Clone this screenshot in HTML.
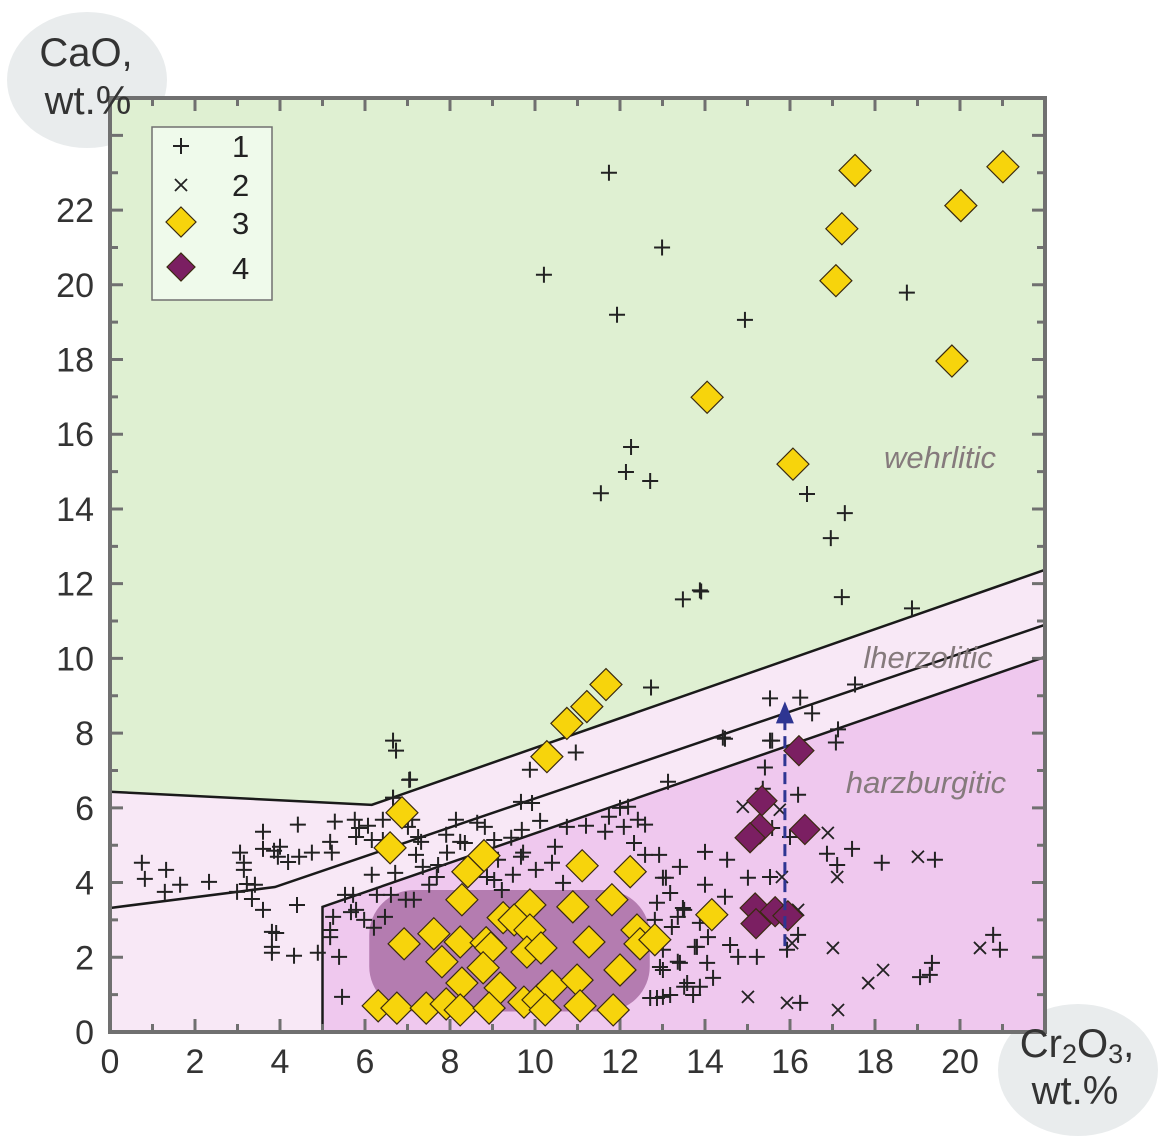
<!DOCTYPE html>
<html><head><meta charset="utf-8"><style>
html,body{margin:0;padding:0;background:#fff;}
svg{display:block;font-family:"Liberation Sans",Arial,sans-serif;}
</style></head><body>
<svg id="chart" width="1172" height="1137" viewBox="0 0 1172 1137" xmlns="http://www.w3.org/2000/svg">
<g id="regions"></g>
<g id="axes"></g>
<g id="marks"></g>
<g id="labels"></g>
</svg>
<script>
const xTicks=[0,2,4,6,8,10,12,14,16,18,20];
const yTicks=[0,2,4,6,8,10,12,14,16,18,20,22];
const wehrBound=[[0,6.43],[6.16,6.08],[22,12.37]];
const lherzBound=[[0,3.32],[3.88,3.88],[22,10.9]];
const harzBound=[[5,0],[5,3.35],[22,10.04]];
const blob=[6.1,0.55,12.7,3.8];
const arrowX=[15.88];
const arrowY=[2.3,8.85];
const s1x=[11.74,12.99,10.21,11.93,14.94,18.75,12.26,12.14,12.71,11.55,16.4,17.29,16.96,17.22,18.87,13.48,13.88,12.73,17.53,15.53,16.24,16.52,14.42,17.13,17.08,6.66,6.73,7.06,9.88,10.96,13.13,15.53,15.41,
0.75,0.82,1.32,1.29,1.65,2.33,3.06,3.15,3.15,2.99,3.22,3.41,3.34,3.6,3.6,3.6,3.86,4.0,3.95,4.19,4.42,4.45,4.75,3.81,3.91,3.81,3.81,4.33,4.4,4.89,5.18,5.22,5.29,5.76,5.79,5.86,6.07,6.42,6.16,6.42,6.16,6.66,7.04,6.66,7.01,7.11,7.25,7.32,7.2,7.36,6.71,7.72,7.69,7.93,7.91,8.14,8.24,8.35,8.64,8.82,9.04,9.44,9.67,9.93,10.12,9.69,9.72,9.67,9.13,8.87,9.04,9.48,9.22,10.02,10.4,10.47,10.66,10.75,11.2,11.65,11.74,12.0,12.19,12.09,12.42,12.59,12.33,12.59,12.92,13.41,13.08,13.18,12.87,13.51,13.22,12.82,13.01,13.36,13.76,13.01,13.51,13.18,12.87,7.51,5.72,5.53,5.67,5.79,5.25,5.18,5.18,5.39,5.46,5.98,6.21,6.47,6.28,6.61,6.96,7.15,
13.91,14.47,15.58,15.36,16.19,15.58,16.0,17.46,16.87,17.11,18.16,19.41,14.0,14.52,15.01,15.53,13.01,14.0,14.47,13.48,13.36,13.88,14.07,13.81,14.59,14.78,15.22,16.19,15.93,12.94,13.41,14.05,13.58,13.88,14.19,12.71,13.01,13.72,16.24,19.06,19.34,19.29,20.78,20.94];
const s1y=[23.0,21.0,20.27,19.2,19.06,19.79,15.66,14.99,14.75,14.42,14.4,13.89,13.22,11.64,11.34,11.58,11.82,9.22,9.3,8.93,8.95,8.53,7.88,8.1,7.75,7.8,7.53,6.76,7.02,7.48,6.7,7.8,7.08,
4.53,4.1,4.34,3.75,3.94,4.02,4.8,4.53,4.34,3.75,3.96,3.94,3.56,5.36,3.27,4.9,4.85,4.96,4.69,4.55,5.55,4.69,4.8,2.68,2.65,2.28,2.12,2.04,3.4,2.12,5.09,4.8,5.63,5.68,5.22,5.46,5.52,5.68,5.14,5.14,4.21,6.27,6.75,6.27,5.49,5.68,5.22,5.09,4.74,4.42,4.26,4.47,4.15,4.8,5.28,5.68,5.09,5.06,5.6,5.49,5.14,5.2,6.16,6.13,5.65,5.41,4.8,4.69,4.61,4.15,4.07,4.21,3.8,4.34,4.53,4.96,3.99,5.49,5.52,5.36,5.76,6.0,6.03,5.49,5.68,5.55,5.06,4.74,4.74,4.42,4.13,3.72,3.46,3.27,2.81,3.0,2.2,1.88,2.28,1.66,1.21,0.99,0.91,3.94,3.67,3.67,3.21,3.27,3.08,2.73,2.54,2.01,0.94,3.0,2.79,3.08,3.67,3.67,3.54,3.54,
11.79,7.85,7.8,6.51,6.35,5.46,5.22,4.9,4.77,4.47,4.53,4.61,4.82,4.61,4.13,4.15,4.13,3.94,3.62,3.32,3.08,2.92,2.54,2.28,2.33,2.01,2.01,2.6,2.2,1.74,1.85,1.85,1.31,1.21,1.45,0.91,0.94,0.99,0.78,1.47,1.85,1.53,2.6,2.2];
const s2x=[14.89,15.76,16.89,17.11,19.01,15.81,16.19,16.05,17.01,15.01,15.93,17.13,17.84,18.19,20.47];
const s2y=[6.03,5.95,5.33,4.15,4.69,4.15,3.27,2.38,2.25,0.94,0.78,0.59,1.31,1.66,2.25];
const s3x=[21.01,17.53,20.02,17.22,17.08,19.81,14.05,16.07,11.67,11.22,10.75,10.28,6.87,6.59,8.8,8.42,11.11,12.24,8.28,6.92,7.62,7.81,8.24,8.85,9.25,9.88,9.51,9.88,8.96,9.81,10.14,10.89,11.81,11.27,12.4,12.47,12.0,8.28,8.78,9.18,9.74,10.07,10.4,10.99,11.84,6.31,6.75,7.44,7.91,8.24,8.92,10.24,14.16,11.06,12.82];
const s3y=[23.16,23.06,22.12,21.5,20.11,17.96,16.99,15.2,9.3,8.71,8.26,7.37,5.87,4.93,4.72,4.29,4.45,4.29,3.54,2.36,2.63,1.88,2.41,2.39,3.06,3.4,3.0,2.73,2.25,2.14,2.25,3.35,3.54,2.41,2.73,2.36,1.66,1.31,1.72,1.18,0.8,0.86,1.23,1.39,0.59,0.7,0.64,0.64,0.75,0.59,0.64,0.59,3.14,0.7,2.47];
const s4x=[16.21,15.34,15.29,15.06,16.35,15.18,15.65,15.95,15.2];
const s4y=[7.53,6.19,5.44,5.2,5.42,3.32,3.22,3.11,2.9];

const X0=110,X1=1045,Y0=1032,Y1=98,XMAX=22,YMAX=25;
const sx=v=>X0+v*(X1-X0)/XMAX;
const sy=v=>Y0-v*(Y0-Y1)/YMAX;
const NS='http://www.w3.org/2000/svg';
function mk(tag,attrs,parent){const e=document.createElementNS(NS,tag);for(const k in attrs)e.setAttribute(k,attrs[k]);parent.appendChild(e);return e;}
const R=document.getElementById('regions'),A=document.getElementById('axes'),M=document.getElementById('marks'),L=document.getElementById('labels'),S=document.getElementById('chart');
const pts=a=>a.map(p=>sx(p[0])+','+sy(p[1])).join(' ');

let e=mk('ellipse',{cx:87,cy:80,rx:80,ry:68,fill:'#e9eced'},S);S.insertBefore(e,R);

e=mk('ellipse',{cx:1078,cy:1070,rx:80,ry:66,fill:'#e9eced'},S);S.insertBefore(e,R);


e=mk('rect',{x:X0,y:Y1,width:X1-X0,height:Y0-Y1,fill:'#dff0d2'},R);

e=mk('polygon',{points:pts([[0,0],...wehrBound,[22,0]]),fill:'#f8e8f6'},R);

e=mk('polygon',{points:pts([...harzBound,[22,0]]),fill:'#efc8ee'},R);

e=mk('rect',{x:sx(blob[0]),y:sy(blob[3]),width:sx(blob[2])-sx(blob[0]),height:sy(blob[1])-sy(blob[3]),rx:45,ry:45,fill:'#b47cb0'},R);

[[wehrBound,'wehrlitic-boundary'],[lherzBound,'lherzolitic-boundary'],[harzBound,'harzburgitic-boundary']].forEach(([b,n])=>{
 const l=mk('polyline',{points:pts(b),fill:'none',stroke:'#1a1a1a','stroke-width':2.5},R);
 
 
});

function plus(x,y){return mk('path',{d:`M${x-8} ${y}h16M${x} ${y-8}v16`,stroke:'#222','stroke-width':2,fill:'none'},M);}
function cross(x,y){return mk('path',{d:`M${x-6} ${y-6}l12 12M${x-6} ${y+6}l12 -12`,stroke:'#222','stroke-width':1.8,fill:'none'},M);}
function diamond(x,y,r,fill){return mk('polygon',{points:`${x},${y-r} ${x+r},${y} ${x},${y+r} ${x-r},${y}`,fill:fill,stroke:'#3a2a10','stroke-width':1.2},M);}
s1x.forEach((v,i)=>{const p=plus(sx(v),sy(s1y[i]));

});
s2x.forEach((v,i)=>{const p=cross(sx(v),sy(s2y[i]));

});
s3x.forEach((v,i)=>{const p=diamond(sx(v),sy(s3y[i]),16,'#f7d40c');

});
s4x.forEach((v,i)=>{const p=diamond(sx(v),sy(s4y[i]),15,'#7b1f62');

});
e=mk('line',{x1:sx(arrowX[0]),y1:sy(arrowY[0]),x2:sx(arrowX[0]),y2:sy(arrowY[1])+16,stroke:'#2e3592','stroke-width':3,'stroke-dasharray':'12,6'},M);

e=mk('polygon',{points:`${sx(arrowX[0])},${sy(arrowY[1])} ${sx(arrowX[0])-9},${sy(arrowY[1])+22} ${sx(arrowX[0])+9},${sy(arrowY[1])+22}`,fill:'#2e3592'},M);


e=mk('rect',{x:X0,y:Y1,width:X1-X0,height:Y0-Y1,fill:'none',stroke:'#707070','stroke-width':4},A);

for(let v=0;v<=XMAX;v++){const x=sx(v),len=v%2?8:13;
 const t=mk('path',{d:`M${x} ${Y0}v${-len}M${x} ${Y1}v${len}`,stroke:'#707070','stroke-width':3},A);
 
 }
for(let v=0;v<=YMAX;v++){const y=sy(v),len=v%2?8:13;
 const t=mk('path',{d:`M${X0} ${y}h${len}M${X1} ${y}h${-len}`,stroke:'#707070','stroke-width':3},A);
 
 }
xTicks.forEach(v=>{const t=mk('text',{x:sx(v),y:1073,'text-anchor':'middle','font-size':34,fill:'#333'},L);t.textContent=v;
 
 });
yTicks.forEach(v=>{const t=mk('text',{x:94,y:sy(v)+12,'text-anchor':'end','font-size':34,fill:'#333'},L);t.textContent=v;
 
 });
</script>
<svg style="position:absolute;left:0;top:0" width="1172" height="1137" xmlns="http://www.w3.org/2000/svg">
<g font-family="Liberation Sans, sans-serif" font-size="40" fill="#333" text-anchor="middle">
<text x="86" y="66">CaO,</text><text x="88" y="114">wt.%</text></g>
<g font-family="Liberation Sans, sans-serif" font-size="40" fill="#333" text-anchor="middle">
<text x="1077" y="1057">Cr<tspan font-size="27" dy="6">2</tspan><tspan dy="-6">O</tspan><tspan font-size="27" dy="6">3</tspan><tspan dy="-6">,</tspan></text><text x="1075" y="1104">wt.%</text></g>
<g font-family="Liberation Sans, sans-serif" font-size="31" font-style="italic" fill="#857a7c" text-anchor="middle">
<text x="940" y="468">wehrlitic</text>
<text x="928" y="668">lherzolitic</text>
<text x="926" y="793">harzburgitic</text></g>
<g>
<rect x="152" y="127" width="120" height="173" fill="#effaeb" stroke="#707070" stroke-width="1.5"/>
<path d="M173 146h16M181 138v16" stroke="#222" stroke-width="2"/>
<path d="M175 179l12 12M175 191l12 -12" stroke="#222" stroke-width="1.8"/>
<polygon points="181,207 196,222 181,237 166,222" fill="#f7d40c" stroke="#3a2a10" stroke-width="1.2"/>
<polygon points="181,253 195,267 181,281 167,267" fill="#7b1f62" stroke="#3a2a10" stroke-width="1.2"/>
<g font-family="Liberation Sans, sans-serif" font-size="31" fill="#222">
<text x="232" y="157">1</text>
<text x="232" y="196">2</text>
<text x="232" y="234">3</text>
<text x="232" y="279">4</text></g>
</g>
</svg>
</body></html>
